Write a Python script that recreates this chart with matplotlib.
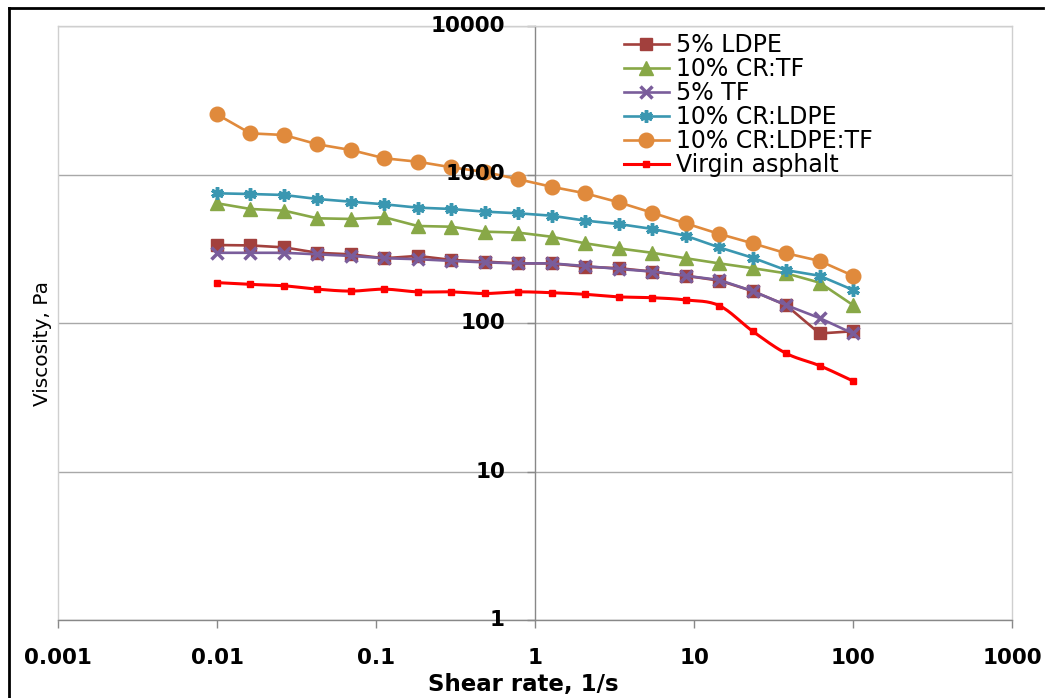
import numpy as np
import matplotlib
matplotlib.use("Agg")
import matplotlib.pyplot as plt
from matplotlib.lines import Line2D
from matplotlib.ticker import FixedLocator, FixedFormatter, NullLocator, NullFormatter

# ---------------- data ----------------
shear_rate = [0.01, 0.0162, 0.0264, 0.0428, 0.0695, 0.113, 0.183, 0.298, 0.483, 0.785,
              1.27, 2.07, 3.36, 5.46, 8.86, 14.4, 23.4, 37.9, 61.6, 100]
ldpe_5 = [335, 333, 323, 297, 290, 273, 283, 266, 259, 252,
          252, 239, 234, 222, 208, 193, 164, 132, 85, 88]
cr_tf_10 = [640, 586, 571, 507, 502, 515, 450, 445, 412, 406,
            381, 344, 318, 297, 273, 252, 234, 216, 187, 132]
tf_5 = [297, 297, 297, 290, 283, 273, 269, 262, 256, 252,
        252, 242, 231, 222, 208, 195, 164, 132, 108, 85]
cr_ldpe_10 = [747, 739, 728, 684, 656, 630, 598, 586, 562, 548,
              528, 489, 464, 430, 387, 323, 275, 227, 208, 167]
cr_ldpe_tf_10 = [2541, 1893, 1845, 1597, 1462, 1286, 1219, 1118, 1040, 929,
                 827, 747, 650, 553, 469, 398, 344, 295, 262, 208]
virgin = [187, 182, 178, 169, 164, 169, 162, 162, 158, 162,
          160, 156, 150, 148, 143, 131, 88, 62.5, 51.6, 40.7]

series_labels = ["5% LDPE", "10% CR:TF", "5% TF", "10% CR:LDPE", "10% CR:LDPE:TF", "Virgin asphalt"]
x_ticks = [0.001, 0.01, 0.1, 1, 10, 100, 1000]
x_tick_labels = ["0.001", "0.01", "0.1", "1", "10", "100", "1000"]
y_ticks = [1, 10, 100, 1000, 10000]
y_tick_labels = ["1", "10", "100", "1000", "10000"]


def smooth_log(xs, ys, n=16):
    """Excel-like smoothed line (Bezier / Catmull-Rom) in log-log space."""
    P = np.column_stack([np.log10(xs), np.log10(ys)])
    P = np.vstack([2 * P[0] - P[1], P, 2 * P[-1] - P[-2]])
    out = []
    t = np.linspace(0, 1, n, endpoint=False)[:, None]
    for i in range(1, len(P) - 2):
        p0, p1, p2, p3 = P[i - 1], P[i], P[i + 1], P[i + 2]
        c1 = p1 + (p2 - p0) / 6.0
        c2 = p2 - (p3 - p1) / 6.0
        seg = ((1 - t) ** 3) * p1 + 3 * ((1 - t) ** 2) * t * c1 + 3 * (1 - t) * t ** 2 * c2 + t ** 3 * p2
        out.append(seg)
    out.append(P[-2][None, :])
    out = np.vstack(out)
    return 10 ** out[:, 0], 10 ** out[:, 1]


W, H = 1046, 698
fig = plt.figure(figsize=(W / 100, H / 100), dpi=100)
ax = fig.add_axes([58 / W, 1 - 620 / H, (1012 - 58) / W, (620 - 26) / H])

ax.set_xscale("log")
ax.set_yscale("log")
ax.set_xlim(0.001, 1000)
ax.set_ylim(1, 10000)

c_ldpe = "#A2403D"
c_crtf = "#88A847"
c_tf = "#7A5D9B"
c_crldpe = "#3A97B1"
c_crldpetf = "#E08A3C"
c_virgin = "#FF0000"

lw = 1.9
h1, = ax.plot(shear_rate, ldpe_5, color=c_ldpe, lw=lw, marker="s", ms=8.5,
              mfc=c_ldpe, mec=c_ldpe, zorder=3)
h2, = ax.plot(shear_rate, cr_tf_10, color=c_crtf, lw=lw, marker="^", ms=9.5,
              mfc=c_crtf, mec=c_crtf, zorder=3)
h3, = ax.plot(shear_rate, tf_5, color=c_tf, lw=lw, marker="x", ms=8,
              mew=2.5, mec=c_tf, zorder=4)
h4, = ax.plot(shear_rate, cr_ldpe_10, color=c_crldpe, lw=lw, marker=(6, 2, 0), ms=9,
              mew=2.5, mec=c_crldpe, zorder=3)
h5, = ax.plot(shear_rate, cr_ldpe_tf_10, color=c_crldpetf, lw=lw, marker="o", ms=10.5,
              mfc=c_crldpetf, mec=c_crldpetf, zorder=3)
sx, sy = smooth_log(shear_rate, virgin)
ax.plot(sx, sy, color=c_virgin, lw=2.2, zorder=3)
ax.plot(shear_rate, virgin, ls="none", marker="s", ms=3.8, mfc=c_virgin, mec=c_virgin, zorder=3)
h6 = Line2D([], [], color=c_virgin, lw=2.2, marker="s", ms=3.8, mfc=c_virgin, mec=c_virgin)

# grid + axes styling
ax.yaxis.set_major_locator(FixedLocator(y_ticks))
ax.yaxis.set_major_formatter(NullFormatter())
ax.yaxis.set_minor_locator(NullLocator())
ax.yaxis.set_minor_formatter(NullFormatter())
ax.xaxis.set_major_locator(FixedLocator(x_ticks))
ax.xaxis.set_major_formatter(FixedFormatter(x_tick_labels))
ax.xaxis.set_minor_locator(NullLocator())
ax.xaxis.set_minor_formatter(NullFormatter())
ax.grid(axis="y", which="major", color="#a8a8a8", lw=1.0)
ax.set_axisbelow(True)

ax.spines["left"].set_position(("data", 1))
ax.spines["left"].set_color("#888888")
ax.spines["bottom"].set_color("#888888")
ax.spines["top"].set_color("#cfcfcf")
ax.spines["right"].set_color("#cfcfcf")
for s in ax.spines.values():
    s.set_linewidth(1.0)
ax.plot([0, 0], [0, 1], transform=ax.transAxes, color="#cfcfcf", lw=1.0, clip_on=False)

tick_fp = matplotlib.font_manager.FontProperties(family="DejaVu Sans", weight="bold", size=15.5)
ax.tick_params(axis="x", direction="out", length=6, width=1, color="#888888", pad=14)
ax.tick_params(axis="y", direction="out", length=6, width=1, color="#888888")
for lab in ax.get_xticklabels():
    lab.set_fontproperties(tick_fp)

# y tick labels drawn on top of the data (as in the reference)
ylab_x = (505 - 58) / (1012 - 58)
for v, txt in zip(y_ticks, y_tick_labels):
    ax.text(ylab_x, v, txt, transform=ax.get_yaxis_transform(), ha="right", va="center",
            fontproperties=tick_fp, zorder=10, clip_on=False)

fig.text(523 / W, 1 - 684 / H, "Shear rate, 1/s", ha="center", va="center",
         family="DejaVu Sans", weight="bold", size=16.5)
fig.text(42 / W, 1 - 343 / H, "Viscosity, Pa", ha="center", va="center",
         rotation=90, family="DejaVu Sans", size=14.5)

leg = ax.legend([h1, h2, h3, h4, h5, h6], series_labels,
                loc="upper left", bbox_to_anchor=(624 / W, 1 - 33 / H),
                bbox_transform=fig.transFigure, frameon=False,
                prop=dict(family="DejaVu Sans", size=17),
                handlelength=1.9, handletextpad=0.3, labelspacing=0.0,
                borderpad=0, borderaxespad=0)
leg.set_zorder(11)

# outer black frame (left and top edges)
fig.add_artist(Line2D([8.8 / W, 8.8 / W], [0, 1 - 7.5 / H], transform=fig.transFigure,
                      color="black", lw=2.0))
fig.add_artist(Line2D([8.8 / W, 1043 / W], [1 - 7.5 / H, 1 - 7.5 / H], transform=fig.transFigure,
                      color="black", lw=2.0))

fig.savefig("out.png", dpi=100)
